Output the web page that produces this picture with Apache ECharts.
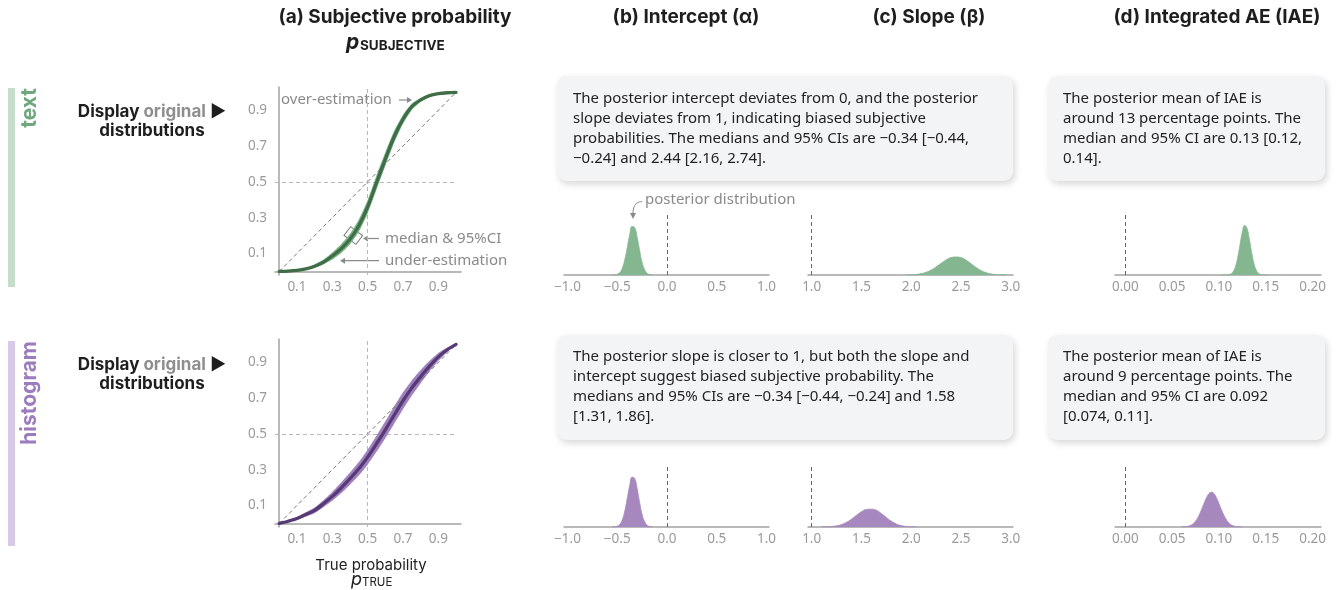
<!DOCTYPE html>
<html>
<head>
<meta charset="utf-8">
<script src="https://cdn.jsdelivr.net/npm/echarts@6/dist/echarts.min.js"></script>
<style>
  html, body { margin: 0; padding: 0; background: #ffffff; }
  #chart { width: 1338px; height: 590px; }
</style>
</head>
<body>
<div id="chart"></div>
<script>
// ---------- data ----------
// true probability grid for the fitted calibration curves
const pTrue = [0, 0.05, 0.1, 0.15, 0.2, 0.25, 0.3, 0.35, 0.4, 0.45, 0.5, 0.55, 0.6, 0.65, 0.7, 0.75, 0.8, 0.85, 0.9, 0.95, 1];

// "text" condition: posterior median curve and 95% band
const textMedian = [0, 0.002, 0.006, 0.014, 0.029, 0.052, 0.086, 0.127, 0.180, 0.255, 0.360, 0.496, 0.627, 0.752, 0.850, 0.920, 0.958, 0.982, 0.993, 0.998, 1];
const textUpper  = [0, 0.003, 0.009, 0.020, 0.039, 0.066, 0.106, 0.152, 0.210, 0.290, 0.398, 0.536, 0.665, 0.785, 0.875, 0.938, 0.969, 0.988, 0.996, 0.999, 1];
const textLower  = [0, 0.001, 0.003, 0.008, 0.019, 0.038, 0.066, 0.102, 0.150, 0.220, 0.322, 0.456, 0.589, 0.719, 0.825, 0.902, 0.947, 0.976, 0.990, 0.997, 1];

// "histogram" condition: posterior median curve and 95% band
const histMedian = [0, 0.012, 0.027, 0.050, 0.073, 0.110, 0.151, 0.198, 0.250, 0.305, 0.370, 0.445, 0.523, 0.605, 0.685, 0.757, 0.820, 0.878, 0.930, 0.970, 1];
const histUpper  = [0, 0.016, 0.035, 0.062, 0.089, 0.130, 0.176, 0.228, 0.284, 0.343, 0.412, 0.490, 0.570, 0.653, 0.732, 0.800, 0.857, 0.908, 0.952, 0.982, 1];
const histLower  = [0, 0.008, 0.019, 0.038, 0.057, 0.090, 0.126, 0.168, 0.216, 0.267, 0.328, 0.400, 0.476, 0.557, 0.638, 0.714, 0.783, 0.848, 0.908, 0.958, 1];

// identity line (unbiased estimation)
const identityLine = [0, 1];

// posterior densities: intercept (alpha)
const interceptX = [-0.55, -0.525, -0.5, -0.475, -0.45, -0.425, -0.4, -0.375, -0.35, -0.325, -0.3, -0.275, -0.25, -0.225, -0.2, -0.175, -0.15];
const interceptDensText = [0.01, 0.03, 0.12, 0.40, 1.1, 2.5, 4.5, 6.7, 8.1, 7.9, 6.3, 4.1, 2.1, 0.9, 0.3, 0.09, 0.02];
const interceptDensHist = [0.01, 0.03, 0.13, 0.42, 1.15, 2.6, 4.7, 6.9, 8.3, 8.1, 6.4, 4.1, 2.1, 0.9, 0.3, 0.08, 0.02];

// posterior densities: slope (beta)
const slopeXText = [1.95, 2.0, 2.05, 2.1, 2.15, 2.2, 2.25, 2.3, 2.35, 2.4, 2.45, 2.5, 2.55, 2.6, 2.65, 2.7, 2.75, 2.8, 2.85, 2.9, 2.95];
const slopeDensText = [0.015, 0.04, 0.10, 0.23, 0.46, 0.83, 1.35, 1.94, 2.5, 2.9, 3.0, 2.9, 2.5, 1.9, 1.28, 0.77, 0.41, 0.19, 0.08, 0.03, 0.01];
const slopeXHist = [1.1, 1.15, 1.2, 1.25, 1.3, 1.35, 1.4, 1.45, 1.5, 1.55, 1.6, 1.65, 1.7, 1.75, 1.8, 1.85, 1.9, 1.95, 2.0, 2.05];
const slopeDensHist = [0.01, 0.027, 0.076, 0.19, 0.41, 0.78, 1.31, 1.95, 2.55, 2.93, 2.97, 2.8, 2.25, 1.6, 0.98, 0.52, 0.24, 0.09, 0.03, 0.01];

// posterior densities: integrated absolute error
const iaeXText = [0.1025, 0.105, 0.1075, 0.11, 0.1125, 0.115, 0.1175, 0.12, 0.1225, 0.125, 0.1275, 0.13, 0.1325, 0.135, 0.1375, 0.14, 0.1425, 0.145, 0.1475, 0.15, 0.1525];
const iaeDensText = [0, 0.01, 0.08, 0.39, 1.55, 5.1, 13.4, 28.9, 50.4, 71.6, 82.7, 77.7, 59.4, 36.9, 18.6, 7.7, 2.6, 0.7, 0.15, 0.03, 0];
const iaeXHist = [0.06, 0.0625, 0.065, 0.0675, 0.07, 0.0725, 0.075, 0.0775, 0.08, 0.0825, 0.085, 0.0875, 0.09, 0.0925, 0.095, 0.0975, 0.1, 0.1025, 0.105, 0.1075, 0.11, 0.1125, 0.115, 0.1175, 0.12, 0.1225, 0.125];
const iaeDensHist = [0.1, 0.27, 0.64, 1.43, 2.9, 5.5, 9.7, 15.8, 23.8, 33.2, 42.9, 51.2, 56.6, 57.9, 54.9, 48.1, 39.1, 29.4, 20.5, 13.2, 7.8, 4.3, 2.2, 1.0, 0.46, 0.2, 0.08];

// reference values (no bias) and tick labels
const interceptRef = 0, slopeRef = 1, iaeRef = 0, probRef = 0.5;
const probTicks = [0.1, 0.3, 0.5, 0.7, 0.9];
const interceptTicks = [-1, -0.5, 0, 0.5, 1];
const slopeTicks = [1, 1.5, 2, 2.5, 3];
const iaeTicks = [0, 0.05, 0.1, 0.15, 0.2];

// ---------- styling ----------
const BODY = '"Noto Sans", Roboto, sans-serif';
const HEAD = 'Inter, "Noto Sans", sans-serif';
const TICK = '#9a9a9a';
const AXIS = '#a3a3a3';

const rows = [
  {
    off: 0, label: 'text', labelColor: '#6fa77e', barColor: '#c6ddcc', barH: 199,
    median: textMedian, upper: textUpper, lower: textLower,
    lineColor: '#3f6d48', bandColor: '#7cb387', fill: '#84b690',
    intY: interceptDensText, slX: slopeXText, slY: slopeDensText, iaeX: iaeXText, iaeY: iaeDensText,
    boxTop: 76, textTop: 89,
    boxText: 'The posterior intercept deviates from 0, and the posterior\nslope deviates from 1, indicating biased subjective\nprobabilities. The medians and 95% CIs are \u22120.34 [\u22120.44,\n\u22120.24] and 2.44 [2.16, 2.74].',
    iaeText: 'The posterior mean of IAE is\naround 13 percentage points. The\nmedian and 95% CI are 0.13 [0.12,\n0.14].'
  },
  {
    off: 252, label: 'histogram', labelColor: '#9b7cbd', barColor: '#d7cae6', barH: 205,
    median: histMedian, upper: histUpper, lower: histLower,
    lineColor: '#563a74', bandColor: '#a081bf', fill: '#a688be',
    intY: interceptDensHist, slX: slopeXHist, slY: slopeDensHist, iaeX: iaeXHist, iaeY: iaeDensHist,
    boxTop: 335, textTop: 347,
    boxText: 'The posterior slope is closer to 1, but both the slope and\nintercept suggest biased subjective probability. The\nmedians and 95% CIs are \u22120.34 [\u22120.44, \u22120.24] and 1.58\n[1.31, 1.86].',
    iaeText: 'The posterior mean of IAE is\naround 9 percentage points. The\nmedian and 95% CI are 0.092\n[0.074, 0.11].'
  }
];

const A_MIN = -0.024, A_MAX = 1.028;

const grid = [], xAxis = [], yAxis = [], series = [], graphic = [];

function fmt(d) {
  return v => v.toFixed(d).replace('-', '\u2212');
}

function densAxis(gi, min, max, ticks, digits) {
  return {
    type: 'value', gridIndex: gi, min: min, max: max,
    axisLine: { show: true, lineStyle: { color: AXIS, width: 1.5 } },
    axisTick: { show: false }, splitLine: { show: false },
    axisLabel: { customValues: ticks, formatter: fmt(digits), color: TICK, fontSize: 13.5, fontFamily: BODY, margin: 5 }
  };
}

// draws the credible band as one polygon through the axis scales
function bandRenderer(params, api) {
  if (params.dataIndexInside !== 0) return;
  const n = params.dataInsideLength;
  const top = [], bottom = [];
  for (let i = 0; i < n; i++) {
    top.push(api.coord([api.value(0, i), api.value(2, i)]));
    bottom.push(api.coord([api.value(0, i), api.value(1, i)]));
  }
  bottom.reverse();
  return {
    type: 'polygon',
    shape: { points: top.concat(bottom), smooth: 0.15 },
    style: { fill: api.visual('color') }
  };
}

function densSeries(ai, xs, ys, color, ref) {
  return {
    type: 'line', xAxisIndex: ai, yAxisIndex: ai,
    data: xs.map((x, i) => [x, ys[i]]),
    smooth: true, symbol: 'none', silent: true,
    lineStyle: { width: 0.8, color: color },
    areaStyle: { color: color, opacity: 1 },
    markLine: {
      silent: true, symbol: ['none', 'none'], z: 1,
      label: { show: false },
      lineStyle: { type: [4, 3], color: '#666', width: 1 },
      data: [{ xAxis: ref }]
    }
  };
}

rows.forEach((r, ri) => {
  const o = r.off;
  const g0 = ri * 4;
  // (a) calibration curve grid
  grid.push({ left: 275, top: 87 + o, width: 186, height: 188 });
  // (b) intercept, (c) slope, (d) IAE
  grid.push({ left: 564, top: 215 + o, width: 205, height: 60 });
  grid.push({ left: 808, top: 215 + o, width: 205, height: 60 });
  grid.push({ left: 1115, top: 215 + o, width: 206, height: 60 });

  xAxis.push({
    type: 'value', gridIndex: g0, min: A_MIN, max: A_MAX,
    axisLine: { show: true, lineStyle: { color: AXIS, width: 1.5 } },
    axisTick: { show: false }, splitLine: { show: false },
    axisLabel: { customValues: probTicks, formatter: fmt(1), color: TICK, fontSize: 13.5, fontFamily: BODY, margin: 5 }
  });
  yAxis.push({
    type: 'value', gridIndex: g0, min: -0.02, max: 1.03,
    axisLine: { show: true, lineStyle: { color: AXIS, width: 1.5 } },
    axisTick: { show: false }, splitLine: { show: false },
    axisLabel: { customValues: probTicks, formatter: fmt(1), color: TICK, fontSize: 13.5, fontFamily: BODY, margin: 8 }
  });
  xAxis.push(densAxis(g0 + 1, -1.035, 1.025, interceptTicks, 1));
  xAxis.push(densAxis(g0 + 2, 0.963, 3.023, slopeTicks, 1));
  xAxis.push(densAxis(g0 + 3, -0.011, 0.209, iaeTicks, 2));
  yAxis.push({ type: 'value', gridIndex: g0 + 1, min: 0, max: 10, show: false });
  yAxis.push({ type: 'value', gridIndex: g0 + 2, min: 0, max: 10, show: false });
  yAxis.push({ type: 'value', gridIndex: g0 + 3, min: 0, max: 100, show: false });

  // reference lines at 0.5
  series.push({
    type: 'line', xAxisIndex: g0, yAxisIndex: g0, data: [], z: 1, silent: true,
    markLine: {
      silent: true, symbol: ['none', 'none'], z: 1, animation: false,
      label: { show: false },
      lineStyle: { type: [4, 3], color: '#b8b8b8', width: 1 },
      data: [
        { xAxis: probRef },
        [{ coord: [A_MIN, probRef] }, { coord: [1, probRef] }]
      ]
    }
  });
  // 95% credible band
  series.push({
    type: 'custom', xAxisIndex: g0, yAxisIndex: g0, z: 2, silent: true,
    itemStyle: { color: r.bandColor },
    encode: { x: 0, y: [1, 2] },
    data: pTrue.map((x, i) => [x, r.lower[i], r.upper[i]]),
    renderItem: bandRenderer
  });
  // identity line
  series.push({
    type: 'line', xAxisIndex: g0, yAxisIndex: g0, z: 3, silent: true,
    data: identityLine.map(v => [v, v]), symbol: 'none',
    lineStyle: { type: [4, 3], color: '#777', width: 1 }
  });
  // posterior median curve
  series.push({
    type: 'line', xAxisIndex: g0, yAxisIndex: g0, z: 4, silent: true,
    data: pTrue.map((x, i) => [x, r.median[i]]), smooth: 0.3, symbol: 'none',
    lineStyle: { color: r.lineColor, width: 3.3, cap: 'round' }
  });

  series.push(densSeries(g0 + 1, interceptX, r.intY, r.fill, interceptRef));
  series.push(densSeries(g0 + 2, r.slX, r.slY, r.fill, slopeRef));
  series.push(densSeries(g0 + 3, r.iaeX, r.iaeY, r.fill, iaeRef));

  // condition bar and rotated condition name
  graphic.push({ type: 'rect', shape: { x: 8, y: 88 + o + ri, width: 7, height: r.barH }, style: { fill: r.barColor }, silent: true });
  graphic.push({
    type: 'text', x: 30, y: 88 + o + ri, rotation: Math.PI / 2, silent: true,
    style: { text: r.label, font: 'bold 21px ' + HEAD, fill: r.labelColor, align: 'right', verticalAlign: 'middle' }
  });
  // row header
  graphic.push({
    type: 'text', x: 152, y: 121 + o + ri, silent: true,
    style: {
      text: '{b|Display }{g|original}{b| \u25B6}\n{b|distributions}',
      align: 'center', verticalAlign: 'middle', lineHeight: 19,
      rich: {
        b: { font: 'bold 17px ' + HEAD, fill: '#1e1e1e', lineHeight: 19 },
        g: { font: 'bold 17px ' + HEAD, fill: '#8e8e8e', lineHeight: 19 }
      }
    }
  });
  // explanation boxes
  [[557, 456, r.boxText, 573], [1048, 277, r.iaeText, 1063]].forEach(b => {
    graphic.push({
      type: 'rect', silent: true,
      shape: { x: b[0], y: r.boxTop, width: b[1], height: 105, r: 9 },
      style: { fill: '#f3f4f6', shadowBlur: 7, shadowColor: 'rgba(0,0,0,0.16)', shadowOffsetX: 2, shadowOffsetY: 3 }
    });
    graphic.push({
      type: 'text', x: b[3], y: r.textTop, silent: true,
      style: { text: b[2], font: '15px ' + BODY, fill: '#222', lineHeight: 20, verticalAlign: 'top', align: 'left' }
    });
  });
});

// column titles
[['(a) Subjective probability', 395], ['(b) Intercept (\u03B1)', 686], ['(c) Slope (\u03B2)', 929], ['(d) Integrated AE (IAE)', 1217]].forEach(t => {
  graphic.push({ type: 'text', x: t[1], y: 17, silent: true,
    style: { text: t[0], font: 'bold 19px ' + HEAD, fill: '#1e1e1e', align: 'center', verticalAlign: 'middle' } });
});
graphic.push({ type: 'text', x: 346, y: 43, silent: true, style: { text: 'p', font: 'italic bold 21px ' + HEAD, fill: '#1e1e1e', align: 'left', verticalAlign: 'middle' } });
graphic.push({ type: 'text', x: 360, y: 46, silent: true, style: { text: 'SUBJECTIVE', font: 'bold 13.5px ' + HEAD, fill: '#1e1e1e', align: 'left', verticalAlign: 'middle' } });

// x axis title
graphic.push({ type: 'text', x: 371, y: 565, silent: true, style: { text: 'True probability', font: '15px ' + HEAD, fill: '#222', align: 'center', verticalAlign: 'middle' } });
graphic.push({ type: 'text', x: 351, y: 580, silent: true, style: { text: 'p', font: 'italic 18px ' + HEAD, fill: '#222', align: 'left', verticalAlign: 'middle' } });
graphic.push({ type: 'text', x: 362, y: 583, silent: true, style: { text: 'TRUE', font: '11.5px ' + HEAD, fill: '#222', align: 'left', verticalAlign: 'middle' } });

// annotations
const NOTE = '#8a8a8a';
function arrow(x1, y1, x2, y2) {
  const ang = Math.atan2(y2 - y1, x2 - x1), L = 5, W = 3;
  const bx = x2 - L * Math.cos(ang), by = y2 - L * Math.sin(ang);
  return [
    { type: 'line', silent: true, shape: { x1: x1, y1: y1, x2: bx, y2: by }, style: { stroke: NOTE, lineWidth: 1.2 } },
    { type: 'polygon', silent: true, shape: { points: [[x2, y2], [bx - W * Math.sin(ang), by + W * Math.cos(ang)], [bx + W * Math.sin(ang), by - W * Math.cos(ang)]] }, style: { fill: NOTE } }
  ];
}
function note(text, x, y) {
  return { type: 'text', x: x, y: y, silent: true, style: { text: text, font: '15px ' + BODY, fill: NOTE, align: 'left', verticalAlign: 'middle' } };
}
graphic.push(note('over-estimation', 281, 100));
graphic.push(...arrow(399, 100, 412, 100));
graphic.push(note('median & 95%CI', 385, 238.5));
graphic.push(...arrow(379, 238.5, 363, 238.5));
graphic.push(note('under-estimation', 385, 260.7));
graphic.push(...arrow(379, 260.7, 340, 260.7));
graphic.push({ type: 'rect', x: 353.3, y: 235.5, rotation: -0.65, silent: true,
  shape: { x: -7.5, y: -5.5, width: 15, height: 11 }, style: { fill: 'none', stroke: '#777', lineWidth: 1 } });
graphic.push(note('posterior distribution', 645, 200));
graphic.push({ type: 'bezierCurve', silent: true,
  shape: { x1: 642, y1: 201.5, cpx1: 635, cpy1: 202, cpx2: 633, cpy2: 206, x2: 633, y2: 213 },
  style: { stroke: NOTE, lineWidth: 1.2, fill: 'none' } });
graphic.push({ type: 'polygon', silent: true, shape: { points: [[633, 219], [630, 213], [636, 213]] }, style: { fill: NOTE } });

const chart = echarts.init(document.getElementById('chart'), null, { renderer: 'canvas' });
chart.setOption({
  backgroundColor: '#ffffff',
  animation: false,
  grid: grid, xAxis: xAxis, yAxis: yAxis, series: series,
  graphic: { elements: graphic }
});
</script>
</body>
</html>
